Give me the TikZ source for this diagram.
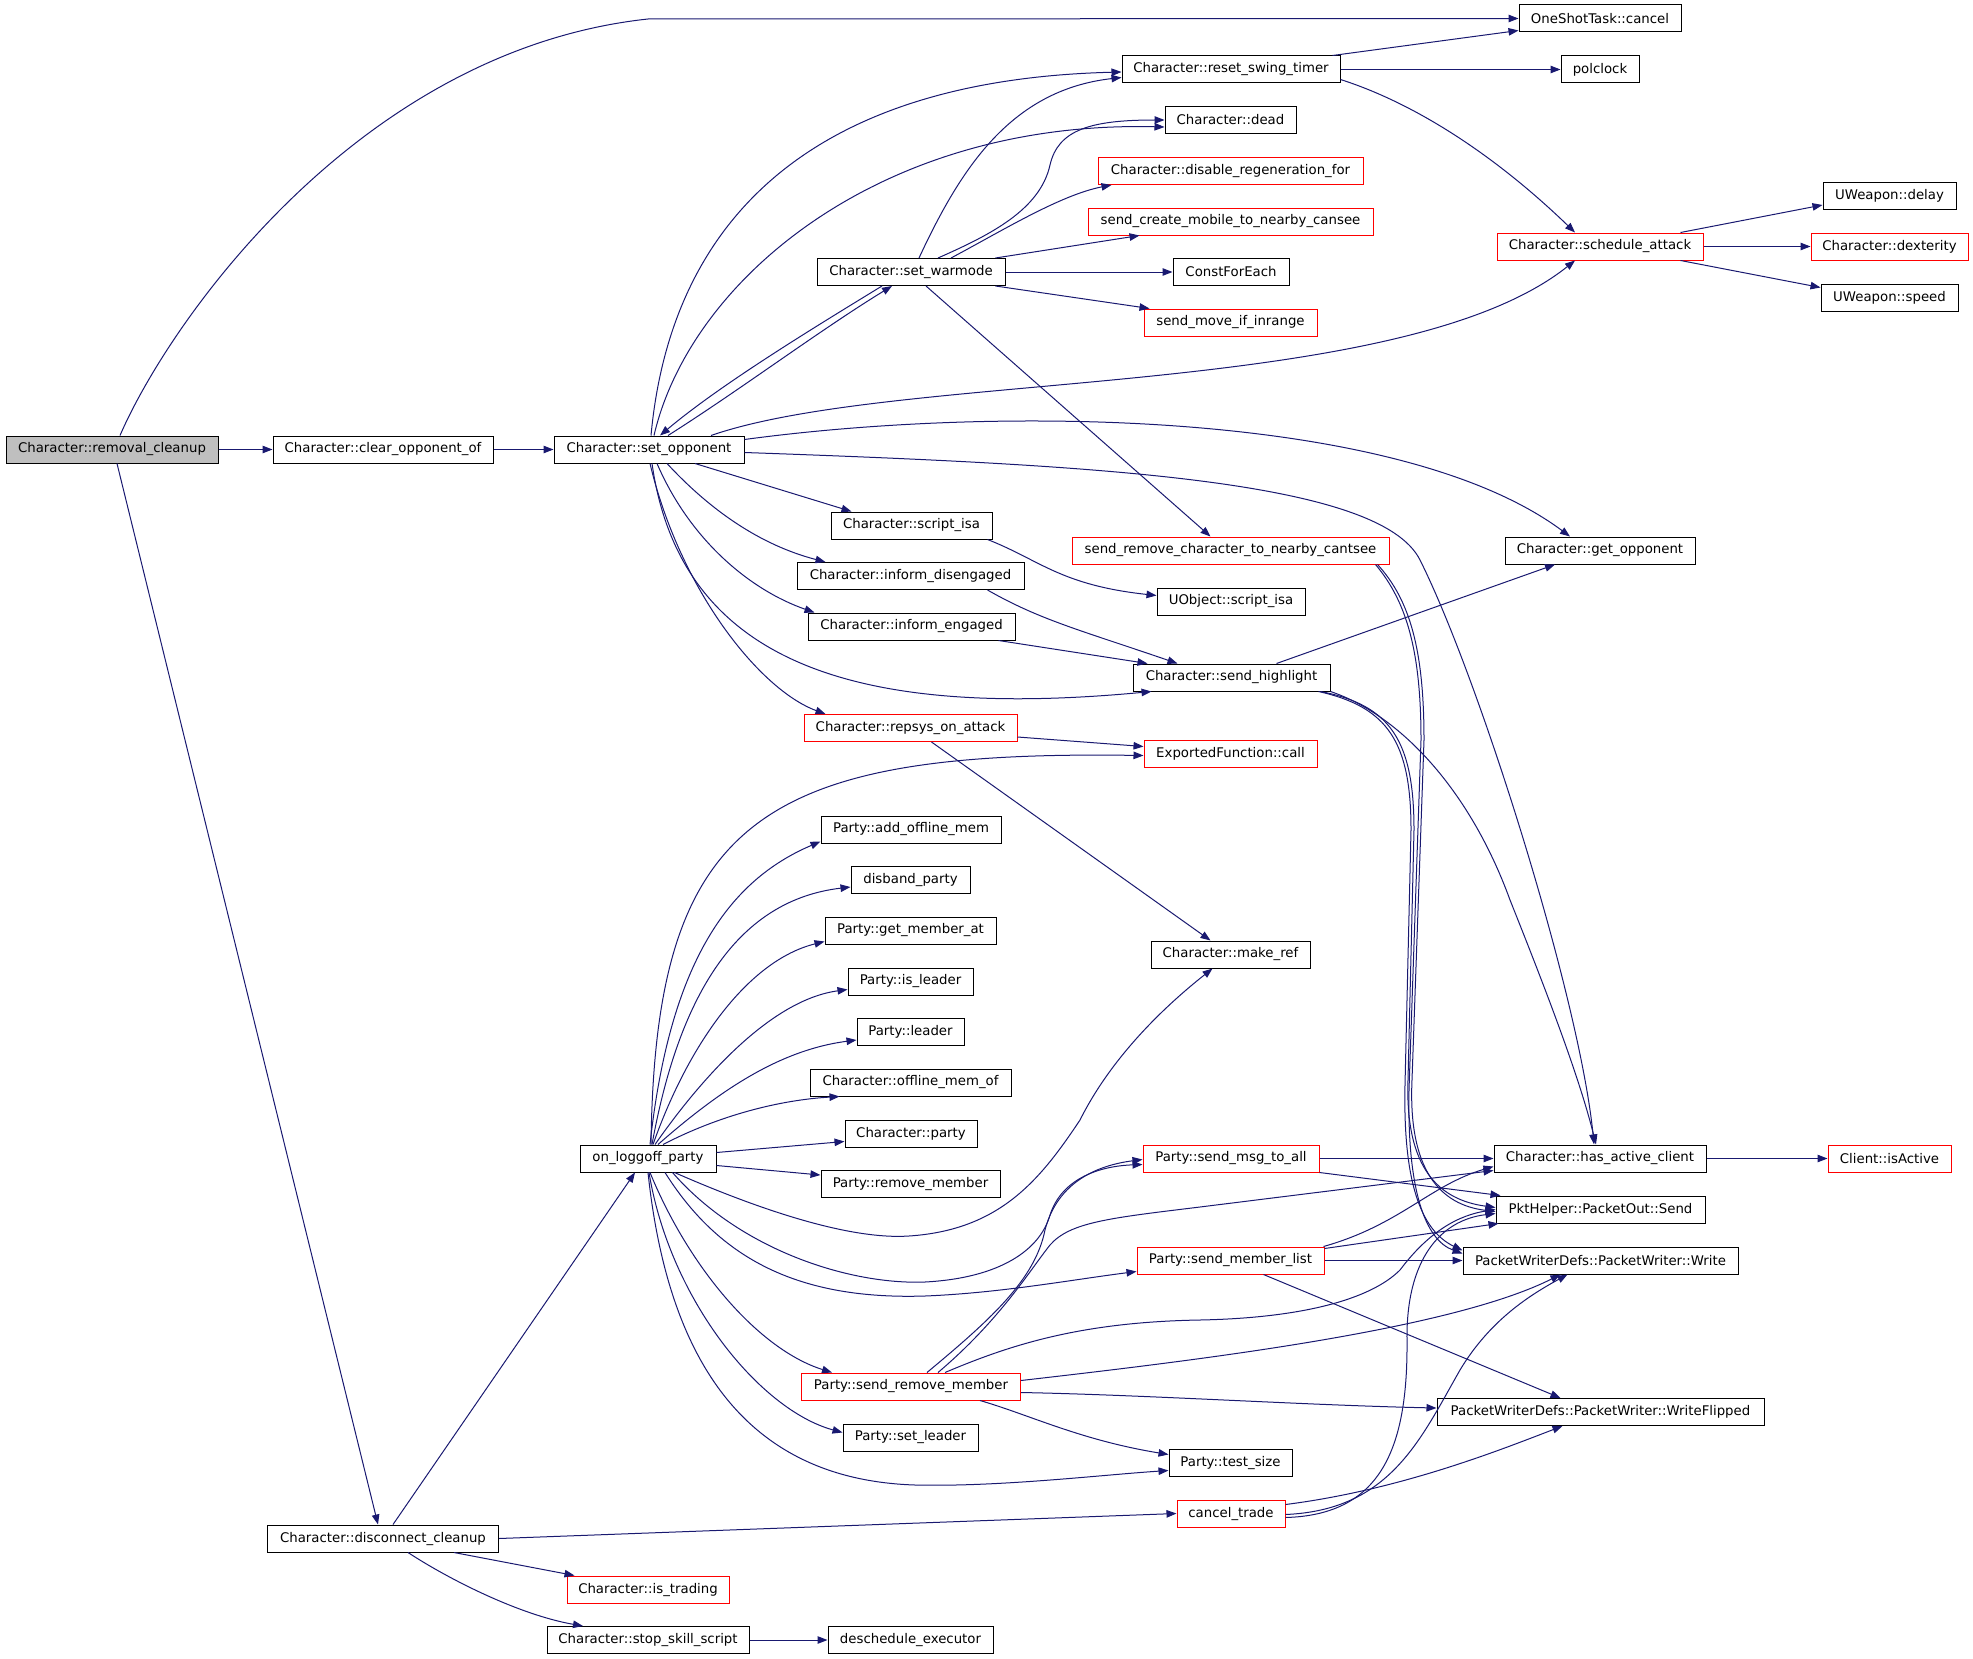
\documentclass[tikz,border=0pt]{standalone}
\usepackage{fontspec}
\setmainfont{DejaVu Sans}
\usetikzlibrary{arrows.meta,calc}
\definecolor{navy}{RGB}{25,25,112}
\definecolor{grayfill}{RGB}{191,191,191}
\definecolor{rednode}{RGB}{255,0,0}
\tikzset{
  box/.style={draw=black, line width=1pt, minimum height=27pt, inner sep=0pt, fill=white,
    font=\fontsize{13.3pt}{15pt}\selectfont},
  rbox/.style={box, draw=rednode},
  edge/.style={draw=navy, line width=1pt, -{Triangle[length=10pt,width=7.5pt]}},
}
\begin{document}
\begin{tikzpicture}[x=1pt,y=-1pt]
\useasboundingbox (0,0) rectangle (1973,1659);
% nodes
\node[box, fill=grayfill, minimum width=212pt] (rc) at (112,449.5) {Character::removal\_cleanup};
\node[box, minimum width=220pt] (cof) at (383,449.5) {Character::clear\_opponent\_of};
\node[box, minimum width=190pt] (so) at (649,449.5) {Character::set\_opponent};
\node[box, minimum width=162pt] (osc) at (1600,18.5) {OneShotTask::cancel};
\node[box, minimum width=218pt] (rst) at (1231,69.5) {Character::reset\_swing\_timer};
\node[box, minimum width=78pt] (pc) at (1600,69.5) {polclock};
\node[box, minimum width=131pt] (dead) at (1230.5,120) {Character::dead};
\node[rbox, minimum width=265pt] (dis) at (1230.5,171) {Character::disable\_regeneration\_for};
\node[rbox, minimum width=285pt] (scm) at (1230.5,221.5) {send\_create\_mobile\_to\_nearby\_cansee};
\node[box, minimum width=188pt] (swm) at (911,272) {Character::set\_warmode};
\node[box, minimum width=116pt] (cfe) at (1231,272) {ConstForEach};
\node[rbox, minimum width=173pt] (smi) at (1230.5,322.5) {send\_move\_if\_inrange};
\node[rbox, minimum width=206pt] (sa) at (1600,246.5) {Character::schedule\_attack};
\node[box, minimum width=133pt] (ud) at (1889.5,196) {UWeapon::delay};
\node[rbox, minimum width=157pt] (dex) at (1889.5,246.5) {Character::dexterity};
\node[box, minimum width=137pt] (us) at (1889.5,297.5) {UWeapon::speed};
\node[box, minimum width=161pt] (si) at (911.5,525.5) {Character::script\_isa};
\node[rbox, minimum width=317pt] (src) at (1230.5,550.5) {send\_remove\_character\_to\_nearby\_cantsee};
\node[box, minimum width=190pt] (go) at (1600,550.5) {Character::get\_opponent};
\node[box, minimum width=227pt] (ide) at (910.5,576) {Character::inform\_disengaged};
\node[box, minimum width=148pt] (uosi) at (1231,601.5) {UObject::script\_isa};
\node[box, minimum width=207pt] (ie) at (911.5,626.5) {Character::inform\_engaged};
\node[box, minimum width=197pt] (sh) at (1231.5,677.5) {Character::send\_highlight};
\node[rbox, minimum width=213pt] (rsa) at (910.5,728) {Character::repsys\_on\_attack};
\node[rbox, minimum width=173pt] (efc) at (1230.5,753.5) {ExportedFunction::call};
\node[box, minimum width=180pt] (aom) at (911,829.5) {Party::add\_offline\_mem};
\node[box, minimum width=119pt] (dp) at (910.5,880) {disband\_party};
\node[box, minimum width=171pt] (gma) at (910.5,930.5) {Party::get\_member\_at};
\node[box, minimum width=125pt] (il) at (910.5,981.5) {Party::is\_leader};
\node[box, minimum width=107pt] (ld) at (910.5,1032) {Party::leader};
\node[box, minimum width=201pt] (omo) at (910.5,1082.5) {Character::offline\_mem\_of};
\node[box, minimum width=132pt] (cp) at (911,1133.5) {Character::party};
\node[box, minimum width=179pt] (rm) at (910.5,1184) {Party::remove\_member};
\node[box, minimum width=136pt] (olp) at (648,1158.5) {on\_loggoff\_party};
\node[box, minimum width=159pt] (mr) at (1230.5,954.5) {Character::make\_ref};
\node[rbox, minimum width=176pt] (smta) at (1231,1158.5) {Party::send\_msg\_to\_all};
\node[box, minimum width=212pt] (hac) at (1600,1158.5) {Character::has\_active\_client};
\node[rbox, minimum width=123pt] (cia) at (1889.5,1158.5) {Client::isActive};
\node[box, minimum width=209pt] (pos) at (1600.5,1209.5) {PktHelper::PacketOut::Send};
\node[rbox, minimum width=187pt] (sml) at (1230.5,1260.5) {Party::send\_member\_list};
\node[box, minimum width=275pt] (pww) at (1600.5,1260.5) {PacketWriterDefs::PacketWriter::Write};
\node[rbox, minimum width=219pt] (srm) at (911,1386.5) {Party::send\_remove\_member};
\node[box, minimum width=327pt] (wf) at (1600.5,1412) {PacketWriterDefs::PacketWriter::WriteFlipped};
\node[box, minimum width=135pt] (sl) at (910.5,1437.5) {Party::set\_leader};
\node[box, minimum width=123pt] (ts) at (1230.5,1462.5) {Party::test\_size};
\node[rbox, minimum width=108pt] (ct) at (1231,1513.5) {cancel\_trade};
\node[box, minimum width=231pt] (dc) at (383,1538.5) {Character::disconnect\_cleanup};
\node[rbox, minimum width=162pt] (it) at (648,1589.5) {Character::is\_trading};
\node[box, minimum width=202pt] (sss) at (648,1640) {Character::stop\_skill\_script};
\node[box, minimum width=165pt] (de) at (910.5,1640) {deschedule\_executor};
% edges
\draw[edge] ($(rc.north)+(8,0)$) .. controls (170,320) and (360,50) .. (648,19) -- (osc.west);
\draw[edge] (rc.east) -- (cof.west);
\draw[edge] ($(rc.south)+(5,0)$) -- ($(dc.north)+(-5,0)$);
\draw[edge] (cof.east) -- (so.west);
\draw[edge] ($(so.north)+(2,0)$) .. controls (670,230) and (800,80) .. ($(rst.west)+(0,2.5)$);
\draw[edge] ($(so.north)+(5,0)$) .. controls (690,280) and (880,120) .. ($(dead.west)+(0,7)$);
\draw[edge] ($(so.north)+(19,0)$) .. controls (740,390) and (820,330) .. ($(swm.south)+(-19,0)$);
\draw[edge] ($(swm.south)+(-29,0)$) .. controls (810,330) and (720,385) .. ($(so.north)+(11,0)$);
\draw[edge] ($(so.north)+(62,0)$) .. controls (900,370) and (1400,400) .. ($(sa.south)+(-25,0)$);
\draw[edge] ($(so.east)+(0,-10)$) .. controls (1000,405) and (1400,410) .. ($(go.north)+(-30,0)$);
\draw[edge] ($(so.east)+(0,3)$) .. controls (1100,465) and (1380,480) .. (1420,560) .. controls (1480,680) and (1580,1000) .. ($(hac.north)+(-6,0)$);
\draw[edge] ($(so.south)+(46,0)$) -- ($(si.north)+(-60,0)$);
\draw[edge] ($(so.south)+(18,0)$) .. controls (710,510) and (760,545) .. ($(ide.north)+(-85,0)$);
\draw[edge] ($(so.south)+(8,0)$) .. controls (690,540) and (750,590) .. ($(ie.north)+(-97,0)$);
\draw[edge] ($(so.south)+(3,0)$) .. controls (680,660) and (850,720) .. ($(sh.south)+(-80,0)$);
\draw[edge] ($(so.south)+(1,0)$) .. controls (680,590) and (760,690) .. ($(rsa.north)+(-85,0)$);
\draw[edge] ($(rst.north east)+(-8,0)$) -- ($(osc.south west)+(0,-2)$);
\draw[edge] (rst.east) -- (pc.west);
\draw[edge] ($(rst.east)+(0,10)$) .. controls (1420,105) and (1500,160) .. ($(sa.north)+(-25,0)$);
\draw[edge] ($(swm.north)+(8,0)$) .. controls (960,170) and (1010,90) .. ($(rst.west)+(0,8)$);
\draw[edge] ($(swm.north)+(27,0)$) .. controls (990,235) and (1040,210) .. (1050,165) .. controls (1058,130) and (1090,120) .. (dead.west);
\draw[edge] ($(swm.north)+(40,0)$) .. controls (1000,232) and (1060,195) .. ($(dis.south west)+(14,0)$);
\draw[edge] ($(swm.north east)+(-10,0)$) -- ($(scm.south west)+(52,0)$);
\draw[edge] (swm.east) -- (cfe.west);
\draw[edge] ($(swm.south east)+(-10,0)$) -- ($(smi.north west)+(6,0)$);
\draw[edge] ($(swm.south)+(15,0)$) -- ($(src.north)+(-20,0)$);
\draw[edge] ($(sa.north east)+(-23,0)$) -- ($(ud.west)+(0,9)$);
\draw[edge] (sa.east) -- (dex.west);
\draw[edge] ($(sa.south east)+(-23,0)$) -- ($(us.west)+(0,-10)$);
\draw[edge] ($(si.south east)+(-5,0)$) .. controls (1040,560) and (1060,585) .. ($(uosi.west)+(0,-6)$);
\draw[edge] ($(ide.south east)+(-37,0)$) .. controls (1040,620) and (1080,630) .. ($(sh.north west)+(45,0)$);
\draw[edge] ($(ie.south east)+(-17,0)$) -- ($(sh.north west)+(15,0)$);
\draw[edge] ($(sh.north east)+(-54,0)$) -- ($(go.south)+(-45,0)$);
\draw[edge] (sh.south east) .. controls (1400,715) and (1470,790) .. (1510,900) .. controls (1550,1000) and (1580,1080) .. ($(hac.north)+(-4,0)$);
\draw[edge] ($(sh.south east)+(-10,0)$) .. controls (1390,705) and (1414,740) .. (1414,830) -- (1408,1080) .. controls (1405,1170) and (1440,1200) .. ($(pos.west)+(0,-2)$);
\draw[edge] ($(sh.south east)+(-12,0)$) .. controls (1388,707) and (1411,742) .. (1411,830) -- (1405,1085) .. controls (1403,1180) and (1420,1230) .. ($(pww.west)+(0,-10)$);
\draw[edge] ($(src.south east)+(-12,0)$) .. controls (1410,600) and (1424,650) .. (1424,740) -- (1412,1080) .. controls (1408,1170) and (1440,1205) .. ($(pos.west)+(0,2)$);
\draw[edge] ($(src.south east)+(-14,0)$) .. controls (1407,602) and (1421,652) .. (1421,740) -- (1409,1090) .. controls (1407,1190) and (1425,1240) .. ($(pww.west)+(0,-7)$);
\draw[edge] ($(rsa.east)+(0,9)$) -- ($(efc.west)+(0,-7)$);
\draw[edge] ($(rsa.south)+(21,0)$) -- ($(mr.north)+(-20,0)$);
\draw[edge] ($(olp.north)+(3,0)$) .. controls (655,820) and (760,750) .. ($(efc.west)+(0,2)$);
\draw[edge] ($(olp.north)+(2,0)$) .. controls (670,960) and (730,880) .. ($(aom.south west)+(0,-2)$);
\draw[edge] ($(olp.north)+(4,0)$) .. controls (680,990) and (740,900) .. ($(dp.west)+(0,7)$);
\draw[edge] ($(olp.north)+(5,0)$) .. controls (690,1040) and (750,960) .. ($(gma.south west)+(0,-3)$);
\draw[edge] ($(olp.north)+(7,0)$) .. controls (700,1080) and (770,1000) .. ($(il.west)+(0,8)$);
\draw[edge] ($(olp.north)+(10,0)$) .. controls (720,1090) and (780,1050) .. ($(ld.west)+(0,8)$);
\draw[edge] ($(olp.north)+(15,0)$) .. controls (720,1115) and (780,1100) .. ($(omo.south west)+(30,0)$);
\draw[edge] ($(olp.east)+(0,-6)$) -- ($(cp.west)+(0,8)$);
\draw[edge] ($(olp.east)+(0,7)$) -- ($(rm.west)+(0,-9)$);
\draw[edge] ($(olp.south east)+(-42,0)$) .. controls (760,1210) and (850,1240) .. (909,1236) .. controls (1000,1230) and (1040,1180) .. (1080,1120) .. controls (1110,1060) and (1160,1010) .. ($(mr.south)+(-18,0)$);
\draw[edge] ($(olp.south east)+(-44,0)$) .. controls (740,1250) and (850,1285) .. (925,1282) .. controls (1000,1278) and (1040,1250) .. (1050,1215) .. controls (1062,1178) and (1100,1166) .. ($(smta.west)+(0,6)$);
\draw[edge] ($(olp.south)+(17,0)$) .. controls (720,1260) and (800,1300) .. (925,1296) .. controls (1000,1293) and (1070,1280) .. ($(sml.west)+(0,11)$);
\draw[edge] ($(olp.south)+(2,0)$) .. controls (690,1270) and (760,1350) .. ($(srm.north west)+(31,0)$);
\draw[edge] ($(olp.south)+(1,0)$) .. controls (670,1300) and (760,1410) .. ($(sl.west)+(0,-5)$);
\draw[edge] (olp.south) .. controls (670,1380) and (760,1480) .. (915,1485) .. controls (1000,1487) and (1100,1475) .. ($(ts.west)+(0,8)$);
\draw[edge] ($(srm.north)+(16,0)$) .. controls (990,1320) and (1035,1280) .. (1045,1230) .. controls (1058,1180) and (1100,1165) .. ($(smta.west)+(0,1)$);
\draw[edge] ($(srm.north)+(27,0)$) .. controls (1000,1320) and (1030,1270) .. (1050,1245) .. controls (1070,1222) and (1110,1218) .. (1200,1207) -- ($(hac.west)+(0,12)$);
\draw[edge] ($(srm.north)+(34,0)$) .. controls (1010,1345) and (1080,1322) .. (1200,1320) .. controls (1300,1318) and (1370,1300) .. (1400,1270) .. controls (1430,1230) and (1460,1215) .. (pos.west);
\draw[edge] ($(srm.east)+(0,-6)$) .. controls (1200,1360) and (1450,1330) .. ($(pww.south)+(-40,0)$);
\draw[edge] ($(srm.east)+(0,6)$) .. controls (1150,1395) and (1300,1405) .. ($(wf.west)+(0,-4)$);
\draw[edge] ($(srm.south east)+(-41,0)$) .. controls (1030,1415) and (1080,1440) .. ($(ts.north west)+(0,6)$);
\draw[edge] (smta.east) -- (hac.west);
\draw[edge] (smta.south east) -- ($(pos.north west)+(5,0)$);
\draw[edge] ($(sml.north east)+(-1,0)$) .. controls (1400,1225) and (1430,1185) .. ($(hac.west)+(0,8)$);
\draw[edge] ($(sml.north east)+(0,2)$) -- ($(pos.south west)+(3,0)$);
\draw[edge] (sml.east) -- (pww.west);
\draw[edge] ($(sml.south)+(33,0)$) -- ($(wf.north)+(-40,0)$);
\draw[edge] ($(ct.east)+(0,4)$) .. controls (1380,1515) and (1408,1450) .. (1407,1340) .. controls (1406,1260) and (1440,1220) .. ($(pos.west)+(0,4)$);
\draw[edge] ($(ct.east)+(0,1)$) .. controls (1390,1510) and (1420,1440) .. (1460,1370) .. controls (1490,1320) and (1530,1295) .. ($(pww.south)+(-33,0)$);
\draw[edge] ($(ct.north east)+(0,5)$) .. controls (1400,1490) and (1500,1450) .. ($(wf.south)+(-38,0)$);
\draw[edge] (hac.east) -- (cia.west);
\draw[edge] ($(dc.north)+(10,0)$) -- ($(olp.south)+(-13,0)$);
\draw[edge] (dc.east) -- (ct.west);
\draw[edge] ($(dc.south)+(71,0)$) -- ($(it.north west)+(8,0)$);
\draw[edge] ($(dc.south)+(25,0)$) .. controls (450,1580) and (520,1615) .. ($(sss.north)+(-65,0)$);
\draw[edge] (sss.east) -- (de.west);
\end{tikzpicture}
\end{document}
